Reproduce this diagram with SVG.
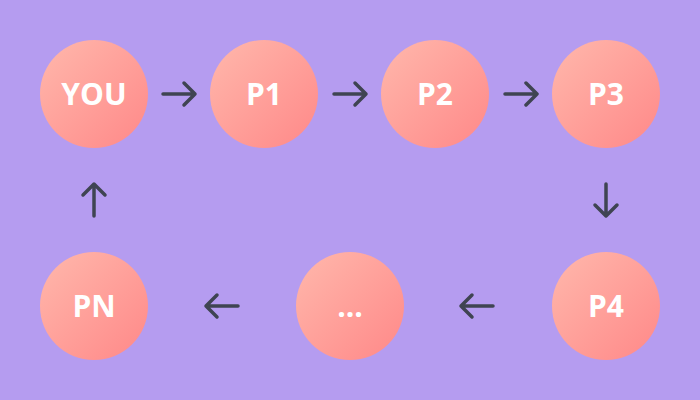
<svg xmlns="http://www.w3.org/2000/svg" width="700" height="400" viewBox="0 0 700 400">
<defs>
<linearGradient id="g" x1="0" y1="0" x2="1" y2="1">
<stop offset="0" stop-color="#ffb8ac"/>
<stop offset="1" stop-color="#ff8888"/>
</linearGradient>
<style>
.n{fill:url(#g)}
.t{font-family:"Open Sans","Liberation Sans",sans-serif;font-weight:700;font-size:30px;fill:#ffffff;text-anchor:middle}
.a{stroke:#3f4452;stroke-width:3.5;fill:none;stroke-linecap:round;stroke-linejoin:round}
</style>
</defs>
<rect width="700" height="400" fill="#b59cf0"/>
<g id="you"><circle class="n" cx="94" cy="94" r="54"/><text class="t" x="94" y="105">YOU</text></g>
<g id="p1"><circle class="n" cx="264" cy="94" r="54"/><text class="t" x="264" y="105">P1</text></g>
<g id="p2"><circle class="n" cx="435" cy="94" r="54"/><text class="t" x="435" y="105">P2</text></g>
<g id="p3"><circle class="n" cx="606" cy="94" r="54"/><text class="t" x="606" y="105">P3</text></g>
<g id="p4"><circle class="n" cx="606" cy="306" r="54"/><text class="t" x="606" y="317">P4</text></g>
<g id="dots"><circle class="n" cx="350" cy="306" r="54"/><text class="t" x="350" y="317">...</text></g>
<g id="pn"><circle class="n" cx="94" cy="306" r="54"/><text class="t" x="94" y="317">PN</text></g>
<g id="connectors">
<path class="a" d="M163 94H195M184 83L195 94L184 105"/>
<path class="a" d="M334 94H366M355 83L366 94L355 105"/>
<path class="a" d="M505 94H537M526 83L537 94L526 105"/>
<path class="a" d="M606 184V216M595 205L606 216L617 205"/>
<path class="a" d="M493 306H461M472 295L461 306L472 317"/>
<path class="a" d="M238 306H206M217 295L206 306L217 317"/>
<path class="a" d="M94 216V184M83 195L94 184L105 195"/>
</g>
</svg>
